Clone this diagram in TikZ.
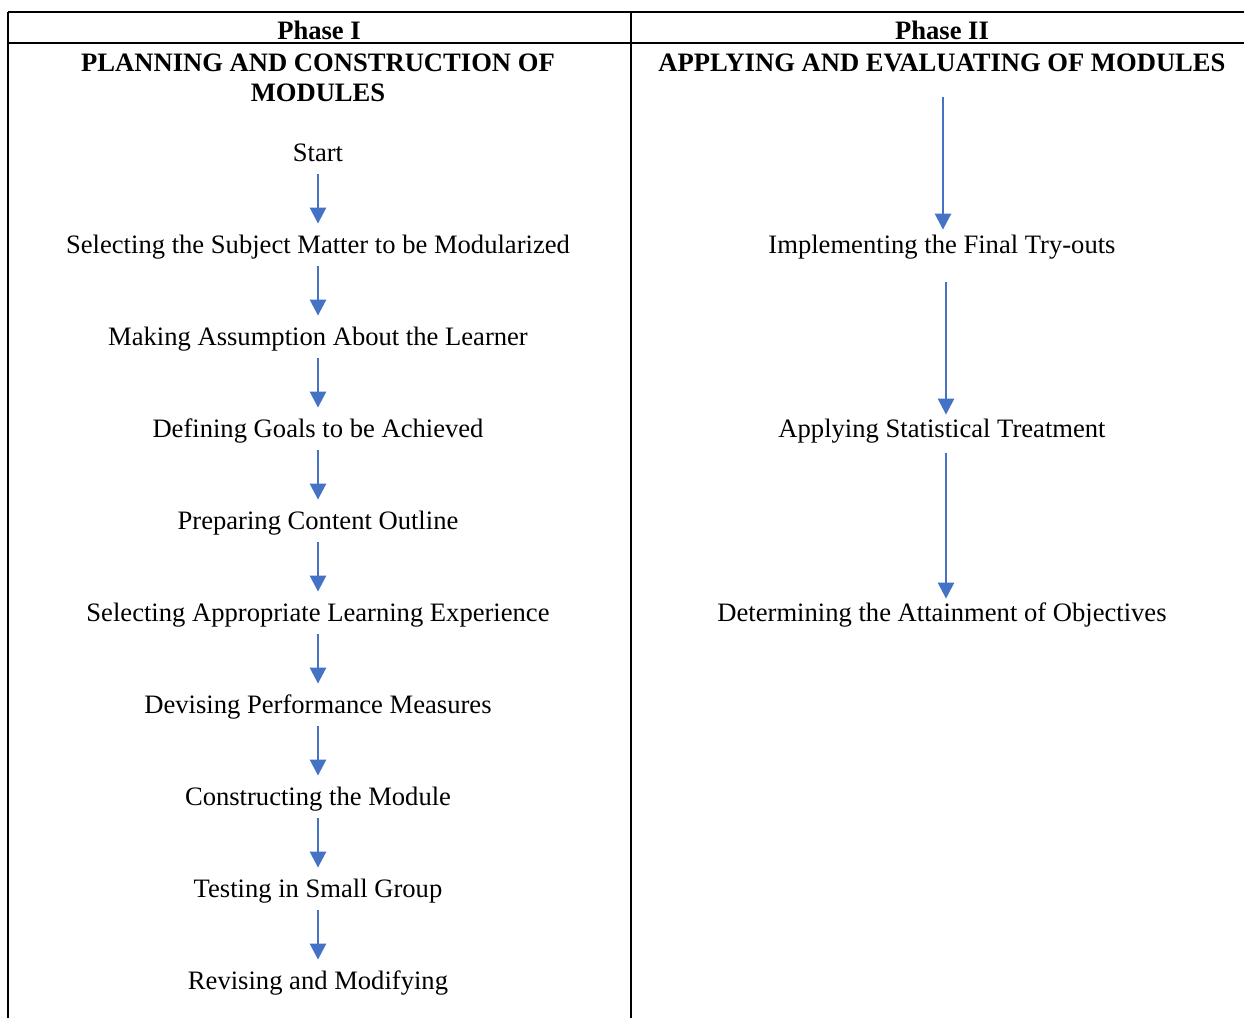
\documentclass[tikz,border=0pt]{standalone}
\usepackage{fontspec}
\setmainfont{Liberation Serif}
\usetikzlibrary{positioning, arrows.meta}

\definecolor{flowblue}{HTML}{4472C4}

\begin{document}
\begin{tikzpicture}[
        x=0.5pt, y=-0.5pt,
        node distance=46pt, on grid,
        every node/.style={font=\fontsize{13.3}{15}\selectfont},
        head/.style={font=\fontsize{13.3}{15}\selectfont\bfseries, align=center},
        stepbox/.style={inner xsep=2pt, inner ysep=0pt, minimum height=21pt, text height=11pt, text depth=3pt},
        flow/.style={draw=flowblue, line width=1.3pt, -{Triangle[width=8pt,length=8pt]}},
        longflow/.style={flow, shorten >=-3.5pt},
        rule/.style={line width=1pt}
    ]
        \useasboundingbox (0,0) rectangle (1244,1018);
        % Table rules
        \draw[rule] (8,12) -- (1244,12);
        \draw[rule] (8,43) -- (1244,43);
        \draw[rule] (8,12) -- (8,1018);
        \draw[rule] (631,12) -- (631,1018);
        % Headings
        \node[head] (ph1) at (319,30) {Phase I};
        \node[head] (ph2) at (942,30) {Phase II};
        \node[head] (title1) at (318,78) {PLANNING AND CONSTRUCTION OF\\MODULES};
        \node[head] (title2) at (942,63) {APPLYING AND EVALUATING OF MODULES};
        % Phase I steps
        \node[stepbox] (start) at (318,153) {Start};
        \node[stepbox, below=of start] (subject) {Selecting the Subject Matter to be Modularized};
        \node[stepbox, below=of subject] (learner) {Making Assumption About the Learner};
        \node[stepbox, below=of learner] (goals) {Defining Goals to be Achieved};
        \node[stepbox, below=of goals] (outline) {Preparing Content Outline};
        \node[stepbox, below=of outline] (experience) {Selecting Appropriate Learning Experience};
        \node[stepbox, below=of experience] (measures) {Devising Performance Measures};
        \node[stepbox, below=of measures] (construct) {Constructing the Module};
        \node[stepbox, below=of construct] (testing) {Testing in Small Group};
        \node[stepbox, below=of testing] (revise) {Revising and Modifying};
        \foreach \a/\b in {start/subject, subject/learner, learner/goals, goals/outline,
                outline/experience, experience/measures, measures/construct,
                construct/testing, testing/revise}
            \draw[flow] (\a) -- (\b);
        % Phase II steps
        \node[stepbox] (tryout) at (942,245) {Implementing the Final Try-outs};
        \node[stepbox, below=92pt of tryout] (stats) {Applying Statistical Treatment};
        \node[stepbox, below=92pt of stats] (attain) {Determining the Attainment of Objectives};
        \coordinate (entry) at (943,97);
        \draw[flow, shorten >=-3pt] (entry) -- (entry |- tryout.north);
        \draw[longflow, shorten <=8pt] ([xshift=2pt]tryout.south) -- ([xshift=2pt]stats.north);
        \draw[longflow, shorten <=1.5pt] ([xshift=2pt]stats.south) -- ([xshift=2pt]attain.north);
\end{tikzpicture}
\end{document}
